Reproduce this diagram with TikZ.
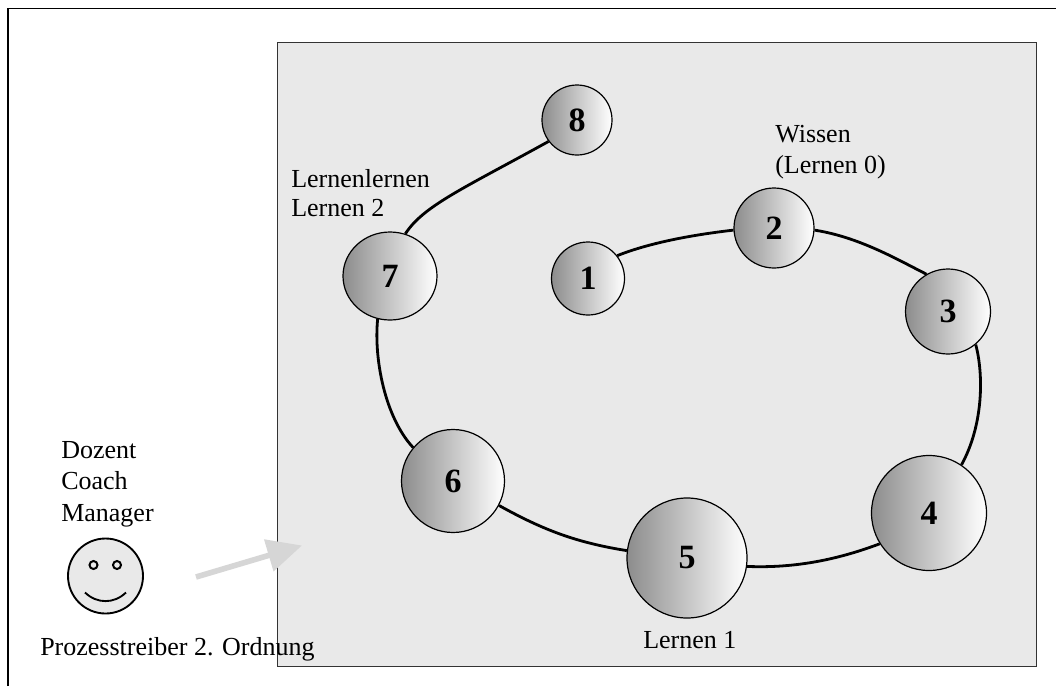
\documentclass[tikz,border=0pt]{standalone}
\usepackage{fontspec}
\setmainfont{Liberation Serif}
\usetikzlibrary{arrows.meta,shapes.geometric}
\definecolor{panel}{HTML}{E9E9E9}
\definecolor{arrowgray}{HTML}{D6D6D6}
\tikzset{
  x=0.75pt,y=-0.75pt,
  ball/.style={circle,draw=black,line width=0.9pt,left color=black!45,right color=white,shading angle=90,inner sep=0pt,font=\fontsize{25.5}{25.5}\selectfont\bfseries},
  oval/.style={ellipse,draw=black,line width=0.9pt,left color=black!45,right color=white,inner sep=0pt,font=\fontsize{25.5}{25.5}\selectfont\bfseries},
  link/.style={line width=2.1pt,black},
  lab/.style={anchor=base west,inner sep=0pt,font=\fontsize{19.5}{19.5}\selectfont},
}
\begin{document}
\begin{tikzpicture}
\useasboundingbox (0,0) rectangle (1056,686);
\fill[white] (0,0) rectangle (1056,686);
% outer frame
\coordinate (fa) at (8,686);
\coordinate (fb) at (8,8.5);
\coordinate (fc) at (1056,8.5);
\draw[line width=0.9pt] (fa) -- (fb) -- (fc);
% panel
\node[draw=black!80,line width=0.9pt,fill=panel,rectangle,minimum width=758.5*0.75pt,minimum height=624*0.75pt,inner sep=0pt,anchor=north west] (panel) at (277,42) {};
% nodes
\node[ball,minimum size=70*0.75pt] (n8) at (577,120) {8};
\node[oval,minimum width=94*0.75pt,minimum height=88*0.75pt] (n7) at (390,276) {7};
\node[ball,minimum size=73*0.75pt] (n1) at (588,278.5) {1};
\node[ball,minimum size=80*0.75pt] (n2) at (774,228) {2};
\node[ball,minimum size=85*0.75pt] (n3) at (948,311.5) {3};
\node[ball,minimum size=115*0.75pt] (n4) at (929,513) {4};
\node[ball,minimum size=120*0.75pt] (n5) at (687,558) {5};
\node[ball,minimum size=103*0.75pt] (n6) at (453,481) {6};
% connectors
\draw[link] (n1.38) .. controls +(35,-14) and +(-35,4) .. (n2.183);
\draw[link] (n2.-3) .. controls +(45,7) and +(-28,-14) .. (n3.120);
\draw[link] (n3.-50) .. controls +(8,30) and +(22,-40) .. (n4.56);
\draw[link] (n4.212) .. controls +(-40,15) and +(50,2) .. (n5.-8);
\draw[link] (n5.173) .. controls +(-50,-8) and +(45,25) .. (n6.-28);
\draw[link] (n6.140) .. controls +(-28,-30) and +(-4,40) .. (n7.-106);
\draw[link] (n7.70) .. controls +(18,-28) and +(-85,47) .. (n8.217);
% labels
\node[lab] (t1) at (775,142) {Wissen};
\node[lab] (t2) at (775,173) {(Lernen 0)};
\node[lab] (t3) at (291,187) {Lernenlernen};
\node[lab] (t4) at (291,216) {Lernen 2};
\node[lab] (t5) at (643,648) {Lernen 1};
\node[lab] (t6) at (61,458) {Dozent};
\node[lab] (t7) at (61,489.5) {Coach};
\node[lab] (t8) at (61,521) {Manager};
\node[lab] (t9) at (40,655) {Prozesstreiber 2. Ordnung};
% smiley
\node[circle,draw=black,line width=1.4pt,fill=panel,minimum size=75*0.75pt,inner sep=0pt] (face) at (105.5,576) {};
\node[circle,draw=black,line width=1.5pt,minimum size=8*0.75pt,inner sep=0pt] (eyeL) at (93.5,565) {};
\node[circle,draw=black,line width=1.5pt,minimum size=8*0.75pt,inner sep=0pt] (eyeR) at (117,565) {};
\coordinate (mL) at (85,592.5);
\coordinate (mR) at (126,592.5);
\draw[line width=1.4pt] (mL) .. controls (97,604) and (114,604) .. (mR);
% arrow
\coordinate (as) at (196,577);
\coordinate (ae) at (302,545.5);
\draw[arrowgray,line width=4.2pt,-{Triangle[length=26pt,width=24pt]}] (as) -- (ae);
\end{tikzpicture}
\end{document}
